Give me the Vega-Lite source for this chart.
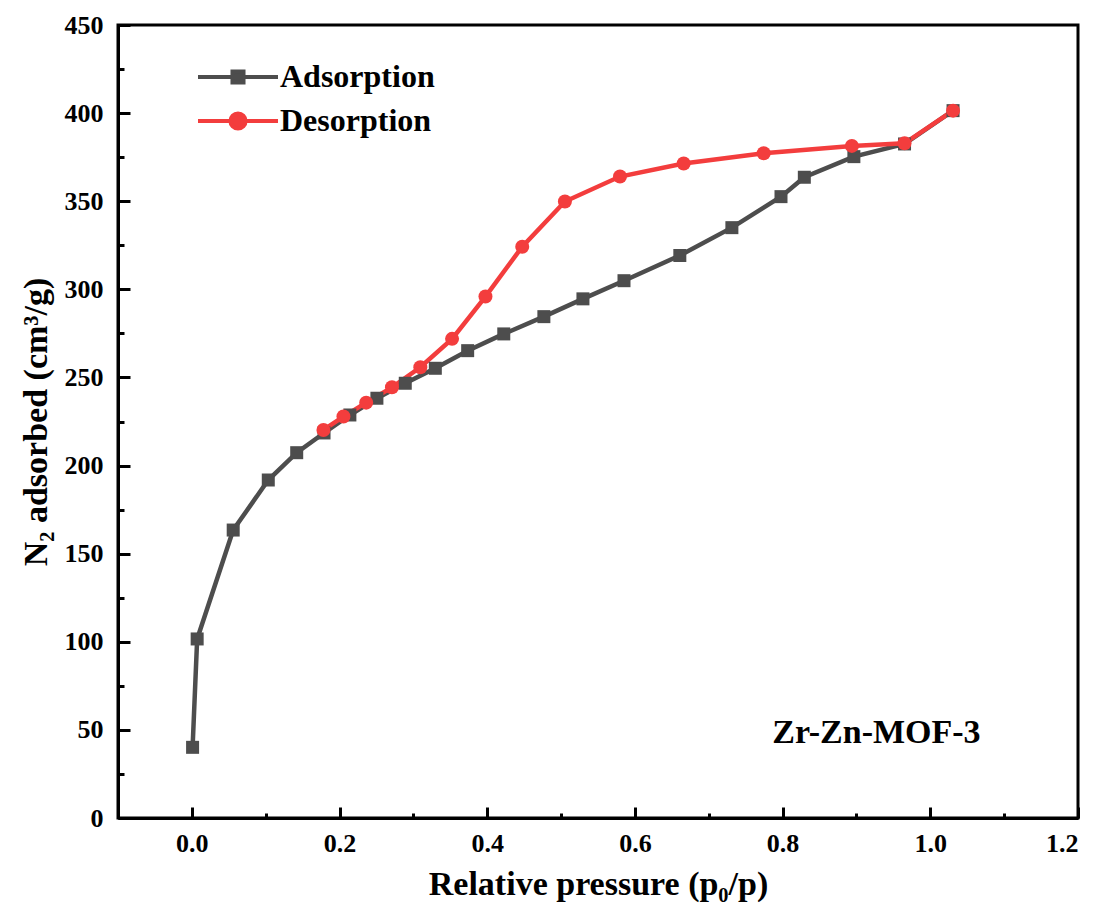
{
  "$schema": "https://vega.github.io/schema/vega-lite/v6.json",
  "width": 960,
  "height": 793,
  "autosize": {"type": "none"},
  "padding": {"left": 118, "top": 25, "right": 21, "bottom": 93},
  "background": "white",
  "config": {
    "view": {"stroke": "black", "strokeWidth": 3},
    "font": "Liberation Serif",
    "axis": {
      "grid": false,
      "domainColor": "black",
      "domainWidth": 3,
      "tickColor": "black",
      "tickWidth": 3,
      "labelFont": "Liberation Serif",
      "labelFontWeight": "bold",
      "labelFontSize": 26,
      "labelColor": "black",
      "titleFont": "Liberation Serif",
      "titleFontWeight": "bold",
      "titleFontSize": 34,
      "titleColor": "black"
    }
  },
  "datasets": {
    "iso": [
      {"series": "Adsorption", "p": 0.001, "v": 40.1},
      {"series": "Adsorption", "p": 0.0072, "v": 101.6},
      {"series": "Adsorption", "p": 0.056, "v": 163.4},
      {"series": "Adsorption", "p": 0.1035, "v": 191.8},
      {"series": "Adsorption", "p": 0.142, "v": 207.3},
      {"series": "Adsorption", "p": 0.179, "v": 218.5},
      {"series": "Adsorption", "p": 0.214, "v": 228.7},
      {"series": "Adsorption", "p": 0.2506, "v": 238.2},
      {"series": "Adsorption", "p": 0.289, "v": 246.7},
      {"series": "Adsorption", "p": 0.3297, "v": 255.2},
      {"series": "Adsorption", "p": 0.3735, "v": 265.2},
      {"series": "Adsorption", "p": 0.4224, "v": 274.7},
      {"series": "Adsorption", "p": 0.4767, "v": 284.5},
      {"series": "Adsorption", "p": 0.5296, "v": 294.6},
      {"series": "Adsorption", "p": 0.5852, "v": 304.9},
      {"series": "Adsorption", "p": 0.6608, "v": 319.2},
      {"series": "Adsorption", "p": 0.7313, "v": 335.0},
      {"series": "Adsorption", "p": 0.7978, "v": 352.6},
      {"series": "Adsorption", "p": 0.8294, "v": 363.6},
      {"series": "Adsorption", "p": 0.8965, "v": 375.3},
      {"series": "Adsorption", "p": 0.9651, "v": 382.5},
      {"series": "Adsorption", "p": 1.0308, "v": 401.4},
      {"series": "Desorption", "p": 1.0308, "v": 401.4},
      {"series": "Desorption", "p": 0.9651, "v": 382.9},
      {"series": "Desorption", "p": 0.8938, "v": 381.4},
      {"series": "Desorption", "p": 0.7744, "v": 377.2},
      {"series": "Desorption", "p": 0.666, "v": 371.4},
      {"series": "Desorption", "p": 0.5798, "v": 364.0},
      {"series": "Desorption", "p": 0.5052, "v": 349.8},
      {"series": "Desorption", "p": 0.4474, "v": 324.2},
      {"series": "Desorption", "p": 0.3976, "v": 295.9},
      {"series": "Desorption", "p": 0.3524, "v": 271.9},
      {"series": "Desorption", "p": 0.3094, "v": 255.8},
      {"series": "Desorption", "p": 0.271, "v": 244.4},
      {"series": "Desorption", "p": 0.2361, "v": 235.7},
      {"series": "Desorption", "p": 0.2053, "v": 227.8},
      {"series": "Desorption", "p": 0.1782, "v": 220.2}
    ],
    "note": [
      {"label": "Zr-Zn-MOF-3", "p": 0.927, "v": 48.2}
    ]
  },
  "data": {"name": "iso"},
  "layer": [
    {
      "transform": [{"filter": "datum.series == 'Adsorption'"}],
      "mark": {"type": "line", "color": "#4d4d4d", "strokeWidth": 4.5},
      "encoding": {
        "x": {
          "field": "p", "type": "quantitative",
          "scale": {"domain": [-0.1, 1.2], "nice": false, "zero": false},
          "axis": {
            "orient": "bottom",
            "values": [0, 0.2, 0.4, 0.6, 0.8, 1.0, 1.2],
            "format": ".1f",
            "tickSize": -11,
            "labelPadding": 23,
            "title": "Relative pressure (p₀/p)",
            "titlePadding": 11
          }
        },
        "y": {
          "field": "v", "type": "quantitative",
          "scale": {"domain": [0, 450], "nice": false},
          "axis": {
            "orient": "left",
            "values": [0, 50, 100, 150, 200, 250, 300, 350, 400, 450],
            "tickSize": -12,
            "labelPadding": 27,
            "title": "N₂ adsorbed (cm³/g)",
            "titlePadding": 11
          }
        }
      }
    },
    {
      "transform": [{"filter": "datum.series == 'Desorption'"}],
      "mark": {"type": "line", "color": "#f33d3d", "strokeWidth": 4.5},
      "encoding": {
        "x": {
          "field": "p", "type": "quantitative",
          "scale": {"domain": [-0.1, 1.2], "nice": false, "zero": false},
          "axis": {
            "orient": "bottom",
            "values": [0.1, 0.3, 0.5, 0.7, 0.9, 1.1],
            "tickSize": -5,
            "labels": false,
            "domain": false,
            "title": null
          }
        },
        "y": {
          "field": "v", "type": "quantitative",
          "scale": {"domain": [0, 450], "nice": false},
          "axis": {
            "orient": "left",
            "values": [25, 75, 125, 175, 225, 275, 325, 375, 425],
            "tickSize": -6,
            "labels": false,
            "domain": false,
            "title": null
          }
        }
      }
    },
    {
      "transform": [{"filter": "datum.series == 'Adsorption'"}],
      "mark": {"type": "point", "shape": "square", "filled": true, "color": "#4d4d4d", "opacity": 1, "size": 169},
      "encoding": {
        "x": {"field": "p", "type": "quantitative", "axis": null},
        "y": {"field": "v", "type": "quantitative", "axis": null}
      }
    },
    {
      "transform": [{"filter": "datum.series == 'Desorption'"}],
      "mark": {"type": "point", "shape": "circle", "filled": true, "color": "#f33d3d", "opacity": 1, "size": 196},
      "encoding": {
        "x": {"field": "p", "type": "quantitative", "axis": null},
        "y": {"field": "v", "type": "quantitative", "axis": null}
      }
    },
    {
      "mark": {"type": "point", "filled": true, "opacity": 0},
      "encoding": {
        "x": {"field": "p", "type": "quantitative", "axis": null},
        "y": {"field": "v", "type": "quantitative", "axis": null},
        "color": {
          "field": "series", "type": "nominal",
          "scale": {"domain": ["Adsorption", "Desorption"], "range": ["#4d4d4d", "#f33d3d"]},
          "legend": {
            "title": null,
            "orient": "none",
            "legendX": 104,
            "legendY": 36,
            "padding": 0,
            "symbolSize": 256,
            "labelFont": "Liberation Serif",
            "labelFontWeight": "bold",
            "labelFontSize": 32,
            "labelColor": "black",
            "labelLimit": 0,
            "labelOffset": 26,
            "rowPadding": 12,
            "symbolOpacity": 1,
            "symbolStrokeWidth": 4,
            "encode": {
              "symbols": {
                "update": {
                  "opacity": {"value": 1},
                  "stroke": {"scale": "color", "field": "value"},
                  "strokeWidth": {"value": 4}
                }
              }
            }
          }
        },
        "shape": {
          "field": "series", "type": "nominal",
          "scale": {
            "domain": ["Adsorption", "Desorption"],
            "range": [
              "M-5,0L5,0M-0.69,-0.69L0.69,-0.69L0.69,0.69L-0.69,0.69Z",
              "M-5,0L5,0M-0.95,0A0.95,0.95 0 1,1 0.95,0A0.95,0.95 0 1,1 -0.95,0Z"
            ]
          },
          "legend": {
            "title": null,
            "orient": "none",
            "legendX": 104,
            "legendY": 36,
            "padding": 0,
            "symbolSize": 256,
            "labelFont": "Liberation Serif",
            "labelFontWeight": "bold",
            "labelFontSize": 32,
            "labelColor": "black",
            "labelLimit": 0,
            "labelOffset": 26,
            "rowPadding": 12,
            "symbolOpacity": 1,
            "symbolStrokeWidth": 4
          }
        }
      }
    },
    {
      "data": {"name": "note"},
      "mark": {"type": "text", "font": "Liberation Serif", "fontWeight": "bold", "fontSize": 34, "color": "black", "align": "center", "baseline": "middle"},
      "encoding": {
        "x": {"field": "p", "type": "quantitative", "axis": null},
        "y": {"field": "v", "type": "quantitative", "axis": null},
        "text": {"field": "label"}
      }
    }
  ],
  "resolve": {"axis": {"x": "independent", "y": "independent"}}
}
